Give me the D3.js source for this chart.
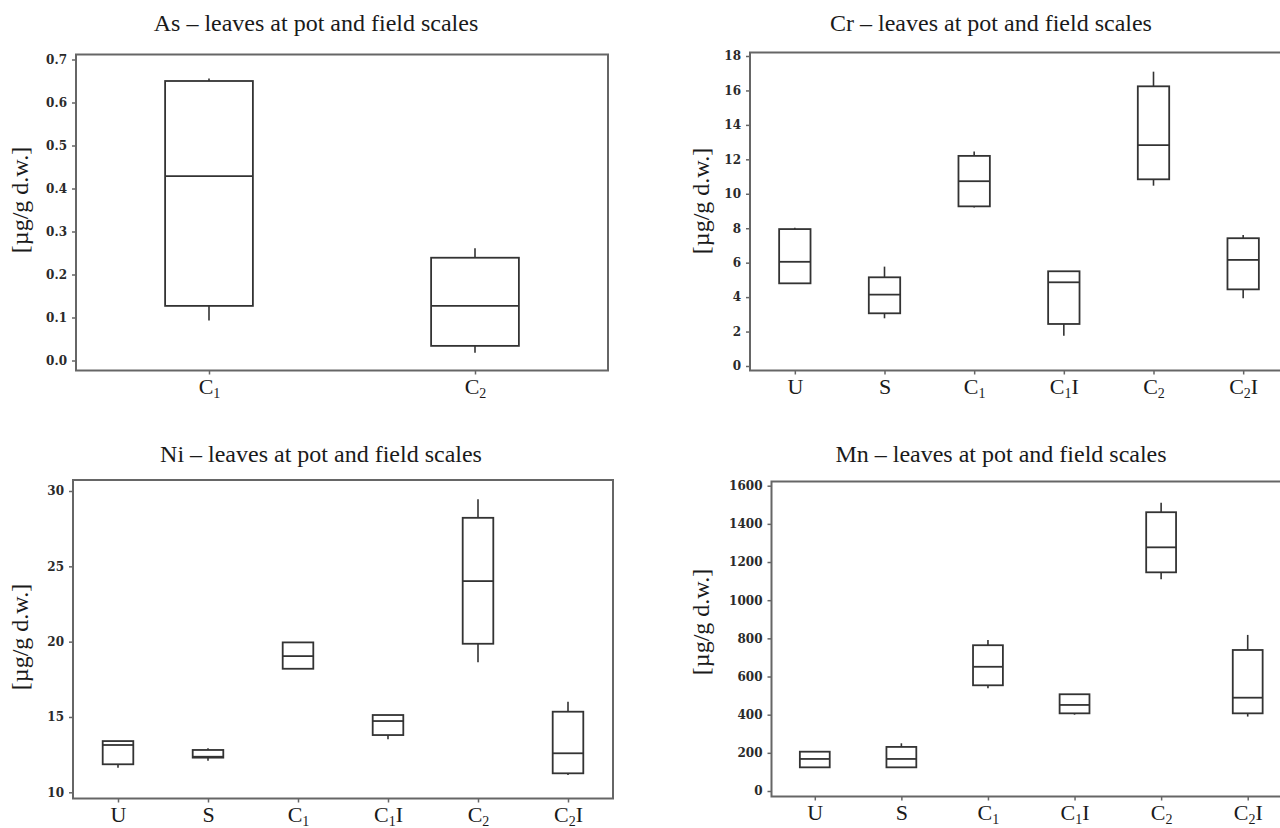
<!DOCTYPE html>
<html>
<head>
<meta charset="utf-8">
<script src="https://cdn.jsdelivr.net/npm/d3@7"></script>
<style>
    body { margin: 0; background: #fff; }
    svg { display: block; }
    .title, .ylab, .xlab { font-family: "Liberation Serif", "Times New Roman", serif; fill: #1a1a1a; }
    .yaxis text { font-family: "DejaVu Serif", serif; font-weight: bold; font-size: 12px; fill: #2a2a2a; }
    .tick line { stroke: #666; stroke-width: 1.5; }
</style>
</head>
<body>
<svg width="1280" height="828"></svg>
<script>
// categories
var asGroups = ["C1", "C2"];
var allGroups = ["U", "S", "C1", "C1I", "C2", "C2I"];

// box values per category: [min, q1, median, q3, max]
var asBoxes = [[0.093, 0.127, 0.429, 0.650, 0.656], [0.018, 0.034, 0.127, 0.239, 0.261]];
var crBoxes = [[4.80, 4.80, 6.05, 7.95, 8.03], [2.77, 3.06, 4.14, 5.15, 5.77], [9.21, 9.27, 10.73, 12.20, 12.45],
               [1.76, 2.44, 4.86, 5.50, 5.50], [10.47, 10.84, 12.83, 16.24, 17.09], [3.93, 4.45, 6.16, 7.42, 7.61]];
var niBoxes = [[11.63, 11.86, 13.14, 13.40, 13.40], [12.10, 12.30, 12.36, 12.81, 12.92], [18.20, 18.20, 19.04, 19.95, 19.95],
               [13.52, 13.80, 14.73, 15.13, 15.13], [18.63, 19.86, 24.02, 28.22, 29.46], [11.15, 11.26, 12.59, 15.35, 16.01]];
var mnBoxes = [[124, 124, 168, 206, 206], [124, 124, 168, 231, 250], [538, 554, 651, 764, 791],
               [400, 407, 451, 507, 507], [1110, 1146, 1277, 1461, 1511], [390, 407, 489, 739, 818]];

// tick labels
var asTicks = [0, 0.1, 0.2, 0.3, 0.4, 0.5, 0.6, 0.7];
var crTicks = [0, 2, 4, 6, 8, 10, 12, 14, 16, 18];
var niTicks = [10, 15, 20, 25, 30];
var mnTicks = [0, 200, 400, 600, 800, 1000, 1200, 1400, 1600];

var yLabel = "[\u00b5g/g d.w.]";

var panels = [
    {title: "As \u2013 leaves at pot and field scales", groups: asGroups, boxes: asBoxes, ticks: asTicks, fmt: d3.format(".1f"),
     frame: [76, 608, 54.5, 370.5], yPix: [360.5, 59.5], titleX: 316, titleY: 31, labX: 20, labY: 200, boxFrac: 0.33},
    {title: "Cr \u2013 leaves at pot and field scales", groups: allGroups, boxes: crBoxes, ticks: crTicks, fmt: d3.format("d"),
     frame: [750, 1288, 52.5, 370.5], yPix: [366, 56], titleX: 991, titleY: 31, labX: 701, labY: 201, boxFrac: 0.35},
    {title: "Ni \u2013 leaves at pot and field scales", groups: allGroups, boxes: niBoxes, ticks: niTicks, fmt: d3.format("d"),
     frame: [73, 613, 480, 798.5], yPix: [792.3, 491], titleX: 321, titleY: 462, labX: 20, labY: 637, boxFrac: 0.34},
    {title: "Mn \u2013 leaves at pot and field scales", groups: allGroups, boxes: mnBoxes, ticks: mnTicks, fmt: d3.format("d"),
     frame: [771.5, 1291, 481.5, 796.5], yPix: [791, 485.7], titleX: 1001, titleY: 462, labX: 701, labY: 622, boxFrac: 0.345}
];

var svg = d3.select("svg");

panels.forEach(drawPanel);

function drawPanel(p) {
    var x0 = p.frame[0], x1 = p.frame[1], y0 = p.frame[2], y1 = p.frame[3];

    var x = d3.scalePoint()
        .domain(p.groups)
        .range([x0, x1])
        .padding(0.5);

    var y = d3.scaleLinear()
        .domain([p.ticks[0], p.ticks[p.ticks.length - 1]])
        .range(p.yPix);

    var g = svg.append("g");

    g.append("text")
        .attr("class", "title")
        .attr("x", p.titleX)
        .attr("y", p.titleY)
        .attr("text-anchor", "middle")
        .style("font-size", "24px")
        .text(p.title);

    g.append("text")
        .attr("class", "ylab")
        .attr("transform", "translate(" + p.labX + "," + p.labY + ") rotate(-90)")
        .attr("text-anchor", "middle")
        .attr("dominant-baseline", "central")
        .style("font-size", "24px")
        .text(yLabel);

    var yAxis = g.append("g")
        .attr("class", "yaxis")
        .attr("transform", "translate(" + x0 + ",0)")
        .call(d3.axisLeft(y).tickValues(p.ticks).tickSize(4).tickPadding(5).tickFormat(p.fmt));
    yAxis.select(".domain").remove();

    var xAxis = g.append("g")
        .attr("class", "xaxis")
        .attr("transform", "translate(0," + y1 + ")")
        .call(d3.axisBottom(x).tickSize(4).tickFormat(""));
    xAxis.select(".domain").remove();

    xAxis.selectAll(".tick").append("text")
        .attr("class", "xlab")
        .attr("y", 23)
        .attr("text-anchor", "middle")
        .style("font-size", "22px")
        .each(function(d) {
            var t = d3.select(this);
            var m = d.match(/^([A-Z])(\d)(.*)$/);
            if (!m) { t.text(d); return; }
            t.append("tspan").text(m[1]);
            t.append("tspan").attr("dy", 4).style("font-size", "14px").text(m[2]);
            if (m[3]) t.append("tspan").attr("dy", -4).text(m[3]);
        });

    g.append("rect")
        .attr("x", x0)
        .attr("y", y0)
        .attr("width", x1 - x0)
        .attr("height", y1 - y0)
        .attr("fill", "none")
        .attr("stroke", "#666")
        .attr("stroke-width", 2);

    var bw = x.step() * p.boxFrac;

    var box = g.append("g").selectAll("g")
        .data(p.boxes)
        .enter().append("g")
        .attr("transform", function(d, i) { return "translate(" + x(p.groups[i]) + ",0)"; });

    box.filter(function(d) { return d[4] > d[3]; }).append("line")
        .attr("y1", function(d) { return y(d[3]); })
        .attr("y2", function(d) { return y(d[4]); })
        .attr("stroke", "#333").attr("stroke-width", 1.6);

    box.filter(function(d) { return d[0] < d[1]; }).append("line")
        .attr("y1", function(d) { return y(d[1]); })
        .attr("y2", function(d) { return y(d[0]); })
        .attr("stroke", "#333").attr("stroke-width", 1.6);

    box.append("rect")
        .attr("x", -bw / 2)
        .attr("width", bw)
        .attr("y", function(d) { return y(d[3]); })
        .attr("height", function(d) { return y(d[1]) - y(d[3]); })
        .attr("fill", "none")
        .attr("stroke", "#333")
        .attr("stroke-width", 1.8);

    box.append("line")
        .attr("x1", -bw / 2)
        .attr("x2", bw / 2)
        .attr("y1", function(d) { return y(d[2]); })
        .attr("y2", function(d) { return y(d[2]); })
        .attr("stroke", "#333")
        .attr("stroke-width", 1.8);
}
</script>
</body>
</html>
